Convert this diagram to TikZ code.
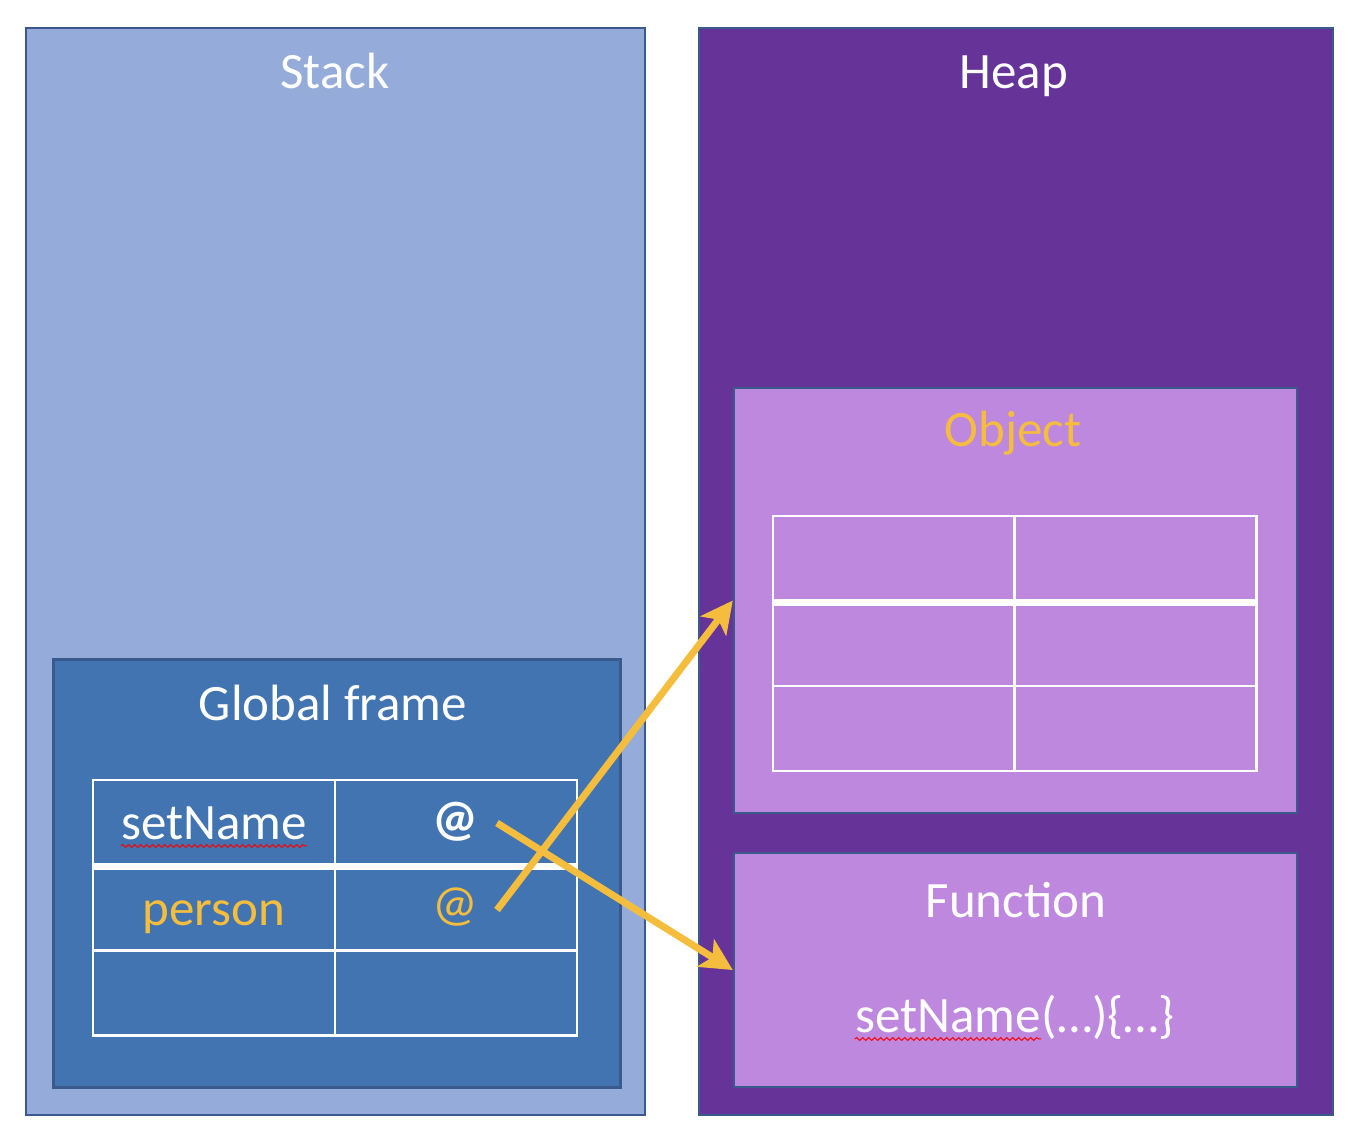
\documentclass[tikz,border=0pt]{standalone}
\usepackage{fontspec}
\setmainfont{Carlito}
\usetikzlibrary{arrows.meta,decorations.pathmorphing}
\definecolor{stackblue}{HTML}{95ABD9}
\definecolor{frameblue}{HTML}{4174B0}
\definecolor{heappurple}{HTML}{663399}
\definecolor{objlilac}{HTML}{BE88DF}
\definecolor{refgold}{HTML}{F5BD3D}
\definecolor{edgeblue}{HTML}{3A5A8E}

\begin{document}
\begin{tikzpicture}[x=0.5pt,y=-0.5pt,
    area/.style ={draw=edgeblue, line width=1.2pt, inner sep=0pt},
    word/.style ={anchor=base, inner sep=0pt, text=white, font=\fontsize{25.5}{30}\selectfont},
    cell/.style ={draw=white, line width=1.2pt, minimum width=121pt, minimum height=42.5pt, inner sep=0pt},
    pointer/.style ={draw=refgold, line width=3.5pt, -{Stealth[length=16pt,width=16pt,inset=4pt]}},
    typo/.style ={draw=red, line width=0.5pt, decorate, decoration={snake, amplitude=0.7pt, segment length=3pt}}]
   \fill[white] (0,0) rectangle (1362,1138);
   \useasboundingbox (0,0) rectangle (1362,1138);

   \node[area, fill=stackblue, minimum width=309.5pt, minimum height=543.5pt] (stack) at (335.5,571.5) {};
   \node[area, fill=heappurple, minimum width=317pt, minimum height=543.5pt] (heap) at (1016,571.5) {};
   \node[word] (stacktitle) at (335,89) {Stack};
   \node[word] (heaptitle) at (1014,89) {Heap};

   \node[area, line width=1.5pt, fill=frameblue, minimum width=283.5pt, minimum height=214pt] (frame) at (336.5,874) {};
   \node[word] (frametitle) at (333,721) {Global frame};
   \node[cell] (s11) at (214,822.5) {};
   \node[cell] (s12) at (456,822.5) {};
   \node[cell] (s21) at (214,908) {};
   \node[cell] (s22) at (456,908) {};
   \node[cell] (s31) at (214,993) {};
   \node[cell] (s32) at (456,993) {};
   \draw[white, line width=3.5pt] (s11.south west) -- (s12.south east);
   \node[word] (kname) at (214,840) {setName};
   \node[word] (vname) at (455,836) {\textbf{@}};
   \node[word, text=refgold] (kperson) at (214,926) {person};
   \node[word, text=refgold] (vperson) at (455,921) {@};
   \draw[typo] ([yshift=-3pt]kname.base west) -- ([yshift=-3pt]kname.base east);

   \node[area, fill=objlilac, minimum width=281.5pt, minimum height=212.5pt] (obj) at (1015.5,600.5) {};
   \node[word, text=refgold] (objtitle) at (1013,447) {Object};
   \node[cell] (o11) at (894,558.5) {};
   \node[cell] (o12) at (1135.5,558.5) {};
   \node[cell] (o21) at (894,643.5) {};
   \node[cell] (o22) at (1135.5,643.5) {};
   \node[cell] (o31) at (894,728.5) {};
   \node[cell] (o32) at (1135.5,728.5) {};
   \draw[white, line width=3.5pt] (o11.south west) -- (o12.south east);

   \node[area, fill=objlilac, minimum width=281.5pt, minimum height=117pt] (fn) at (1015.5,970) {};
   \node[word] (fntitle) at (1016,918) {Function};
   \node[word] (fnname) at (948,1033) {setName};
   \node[word, anchor=base west] (fnargs) at (fnname.base east) {(…)\{…\}};
   \draw[typo] ([yshift=-3pt]fnname.base west) -- ([yshift=-3pt]fnname.base east);

   \coordinate (ptrperson) at (497,910);
   \coordinate (ptrname) at (497,823);
   \draw[pointer] (ptrperson) -- (obj.west);
   \draw[pointer] (ptrname) -- (fn.west);
\end{tikzpicture}
\end{document}
